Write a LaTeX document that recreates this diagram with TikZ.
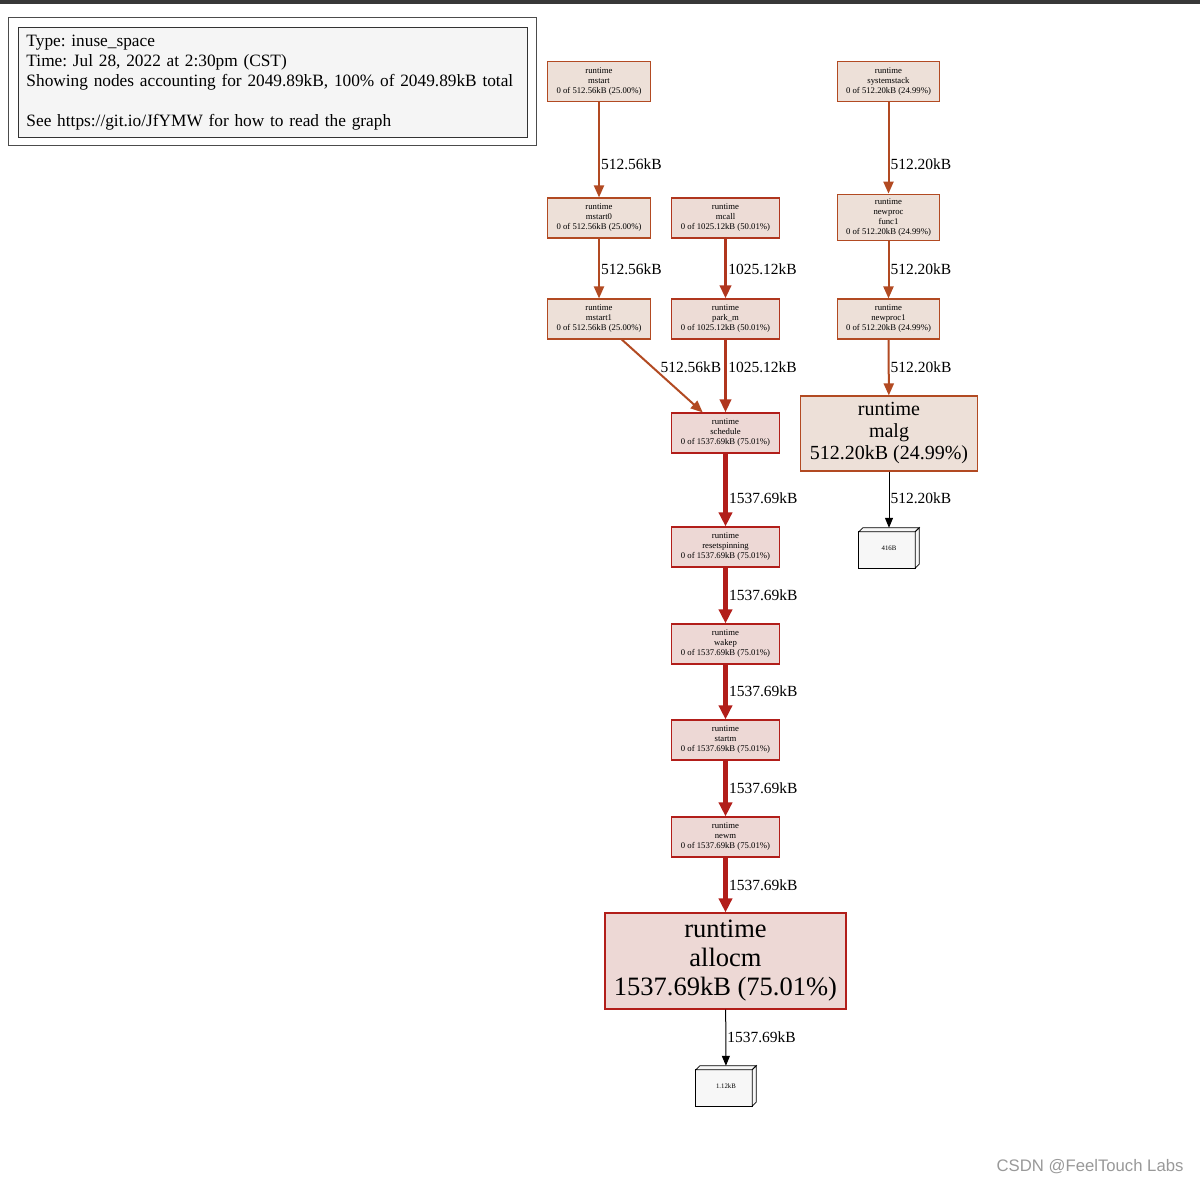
\documentclass[tikz,border=0pt]{standalone}
\usepackage{fontspec}
\setmainfont{Liberation Serif}
\newfontfamily\wmfont{Liberation Sans}
\usetikzlibrary{arrows.meta,backgrounds}
\frenchspacing
% pprof heat colours (25%, 50%, 75% of total)
\definecolor{pfEdgeLow}{HTML}{B24A22}
\definecolor{pfEdgeMid}{HTML}{B0361E}
\definecolor{pfEdgeHigh}{HTML}{B21E1A}
\definecolor{pfFillLow}{HTML}{EDE0D8}
\definecolor{pfFillMid}{HTML}{EDDCD6}
\definecolor{pfFillHigh}{HTML}{EDD8D5}
\definecolor{pfLeafFill}{HTML}{F7F7F7}
% faces of a box3d leaf node
\newcommand{\pfLeafFaces}[1]{%
  \filldraw[leafface] ([yshift=-4pt]#1.north west) rectangle ([xshift=-4pt]#1.south east);
  \filldraw[leafface] ([yshift=-4pt]#1.north west) -- ([xshift=4pt]#1.north west) -- (#1.north east) -- ([xshift=-4pt,yshift=-4pt]#1.north east) -- cycle;
  \filldraw[leafface] ([xshift=-4pt,yshift=-4pt]#1.north east) -- (#1.north east) -- ([yshift=4pt]#1.south east) -- ([xshift=-4pt]#1.south east) -- cycle;
}
\begin{document}
\begin{tikzpicture}[x=1pt, y=-1pt,
  fn/.style={draw, line width=1.1pt, inner xsep=9pt, inner ysep=4.5pt, minimum height=40pt, align=center, font=\fontsize{8.7}{10}\selectfont},
  fnlow/.style={fn, draw=pfEdgeLow, fill=pfFillLow},
  fnmid/.style={fn, draw=pfEdgeMid, fill=pfFillMid},
  fnhigh/.style={fn, draw=pfEdgeHigh, fill=pfFillHigh},
  leaf/.style={inner sep=0pt, minimum width=60pt, minimum height=40pt, font=\fontsize{6.8}{8}\selectfont},
  leafface/.style={draw=black, line width=0.8pt, fill=pfLeafFill},
  lbl/.style={anchor=west, inner sep=1pt, font=\fontsize{15.5}{18}\selectfont},
  elow/.style={draw=pfEdgeLow, line width=2pt, -{Triangle[length=12pt,width=10pt]}},
  emid/.style={draw=pfEdgeMid, line width=3.5pt, -{Triangle[length=13pt,width=11pt]}},
  ehigh/.style={draw=pfEdgeHigh, line width=5pt, -{Triangle[length=14pt,width=13pt]}},
  eleaf/.style={draw=black, line width=1pt, -{Triangle[length=10pt,width=8pt]}}]
\useasboundingbox (0,0) rectangle (1200,1182);
% window bar
\fill[black!78] (0,0) rectangle (1200,4);
% Legend
\draw[line width=1pt, draw=black!70] (8,18) rectangle (536,146);
\node[draw=black!80, line width=1pt, fill=black!4, anchor=north west, minimum width=509pt, minimum height=110pt,
  inner xsep=8pt, text width=493pt, align=left, font=\fontsize{17.3}{20}\selectfont] (legend) at (18,27)
  {Type: inuse\_space\\Time: Jul 28, 2022 at 2:30pm (CST)\\Showing nodes accounting for 2049.89kB, 100\% of 2049.89kB total\\[20pt]See https://git.io/JfYMW for how to read the graph};
% Call graph nodes
\node[fnlow]  (mstart)   at (599,81.5)   {runtime\\mstart\\0 of 512.56kB (25.00\%)};
\node[fnlow]  (mstartz)  at (599,218)    {runtime\\mstart0\\0 of 512.56kB (25.00\%)};
\node[fnlow]  (mstarto)  at (599,319)    {runtime\\mstart1\\0 of 512.56kB (25.00\%)};
\node[fnmid]  (mcall)    at (725.5,218)  {runtime\\mcall\\0 of 1025.12kB (50.01\%)};
\node[fnmid]  (parkm)    at (725.5,319)  {runtime\\park\_m\\0 of 1025.12kB (50.01\%)};
\node[fnhigh] (schedule) at (725.5,433)  {runtime\\schedule\\0 of 1537.69kB (75.01\%)};
\node[fnhigh] (resetspin) at (725.5,547) {runtime\\resetspinning\\0 of 1537.69kB (75.01\%)};
\node[fnhigh] (wakep)    at (725.5,644)  {runtime\\wakep\\0 of 1537.69kB (75.01\%)};
\node[fnhigh] (startm)   at (725.5,740)  {runtime\\startm\\0 of 1537.69kB (75.01\%)};
\node[fnhigh] (newm)     at (725.5,837)  {runtime\\newm\\0 of 1537.69kB (75.01\%)};
\node[fnhigh, minimum height=96pt, font=\fontsize{26.5}{29}\selectfont] (allocm) at (725.5,961)
  {runtime\\allocm\\1537.69kB (75.01\%)};
\node[leaf]   (leafalloc) at (726,1086)  {1.12kB};
\node[fnlow]  (sysstack) at (888.5,81.5) {runtime\\systemstack\\0 of 512.20kB (24.99\%)};
\node[fnlow]  (newprocf) at (888.5,217.5) {runtime\\newproc\\func1\\0 of 512.20kB (24.99\%)};
\node[fnlow]  (newproco) at (888.5,319)  {runtime\\newproc1\\0 of 512.20kB (24.99\%)};
\node[fnlow, minimum height=75pt, font=\fontsize{20}{22}\selectfont] (malg) at (889,433.5)
  {runtime\\malg\\512.20kB (24.99\%)};
\node[leaf]   (leafmalg) at (889,548)    {416B};
\begin{scope}[on background layer]
  \pfLeafFaces{leafalloc}
  \pfLeafFaces{leafmalg}
\end{scope}
% Edges
\draw[elow]  (mstart)    -- node[lbl, pos=0.65] {512.56kB} (mstartz);
\draw[elow]  (mstartz)   -- node[lbl, pos=0.52] {512.56kB} (mstarto);
\draw[elow]  (mstarto)   -- node[lbl, pos=0.38, xshift=6pt] {512.56kB} (schedule);
\draw[emid]  (mcall)     -- node[lbl, pos=0.52] {1025.12kB} (parkm);
\draw[emid]  (parkm)     -- node[lbl, pos=0.38] {1025.12kB} (schedule);
\draw[ehigh] (schedule)  -- node[lbl, pos=0.61] {1537.69kB} (resetspin);
\draw[ehigh] (resetspin) -- node[lbl, pos=0.49] {1537.69kB} (wakep);
\draw[ehigh] (wakep)     -- node[lbl, pos=0.48] {1537.69kB} (startm);
\draw[ehigh] (startm)    -- node[lbl, pos=0.49] {1537.69kB} (newm);
\draw[ehigh] (newm)      -- node[lbl, pos=0.50] {1537.69kB} (allocm);
\draw[eleaf] (allocm)    -- node[lbl, pos=0.49] {1537.69kB} (leafalloc);
\draw[elow]  (sysstack)  -- node[lbl, pos=0.68] {512.20kB} (newprocf);
\draw[elow]  (newprocf)  -- node[lbl, pos=0.49] {512.20kB} (newproco);
\draw[elow]  (newproco)  -- node[lbl, pos=0.49] {512.20kB} (malg);
\draw[eleaf] (malg)      -- node[lbl, pos=0.47] {512.20kB} (leafmalg);
% watermark
\node[anchor=east, text=black!40, font=\wmfont\fontsize{16.7}{19}\selectfont] (mark) at (1187,1167) {CSDN @FeelTouch Labs};
\end{tikzpicture}
\end{document}
